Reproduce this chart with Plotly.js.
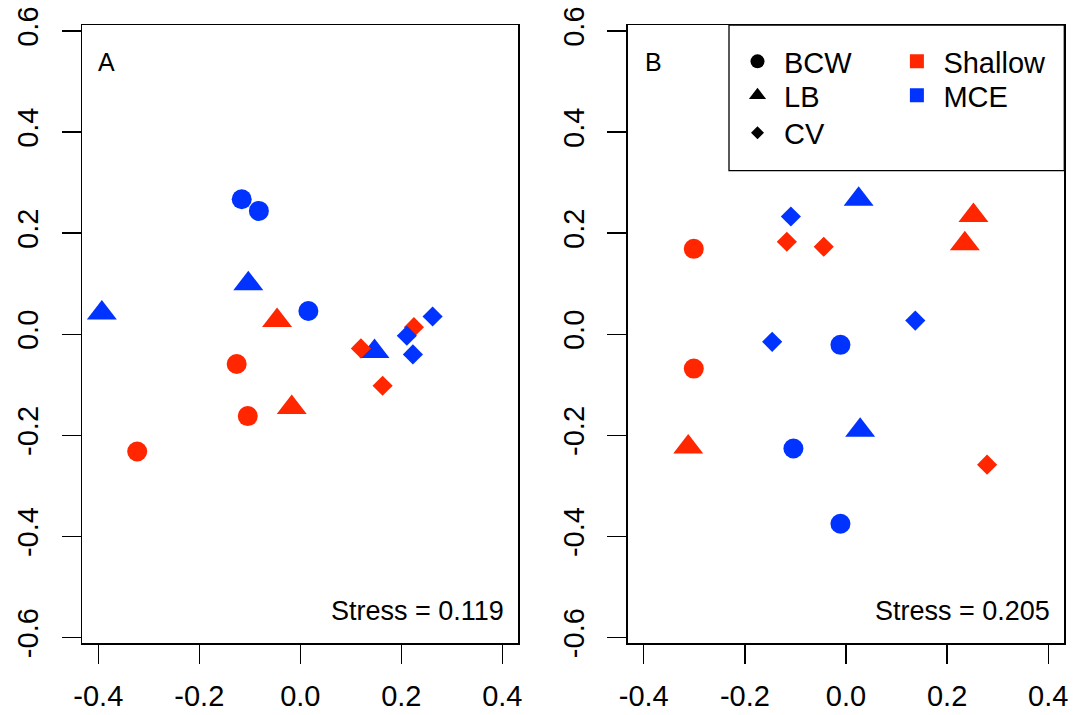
<!DOCTYPE html>
<html>
<head>
<meta charset="utf-8">
<script src="https://cdn.plot.ly/plotly-3.0.1.min.js"></script>
<style>html,body{margin:0;padding:0;background:#fff;}#plot{width:1086px;height:715px;}</style>
</head>
<body>
<div id="plot"></div>
<script>
// ---- data ----
const tickVals = [-0.4, -0.2, 0.0, 0.2, 0.4];
const tickText = ['-0.4', '-0.2', '0.0', '0.2', '0.4'];
const yTickVals = [-0.6, -0.4, -0.2, 0.0, 0.2, 0.4, 0.6];
const yTickText = ['-0.6', '-0.4', '-0.2', '0.0', '0.2', '0.4', '0.6'];

const sites = ['BCW', 'LB', 'CV'];
const depths = ['Shallow', 'MCE'];

// Panel A
const A_x = [-0.116, -0.082, 0.016, -0.126, -0.104, -0.323, -0.046, -0.017, -0.393, -0.103, 0.147, 0.120, 0.163, 0.225, 0.211, 0.223, 0.262];
const A_y = [0.267, 0.244, 0.046, -0.059, -0.162, -0.232, 0.027, -0.145, 0.042, 0.100, -0.034, -0.028, -0.102, 0.014, -0.003, -0.040, 0.035];
const A_site = ['BCW','BCW','BCW','BCW','BCW','BCW','LB','LB','LB','LB','LB','CV','CV','CV','CV','CV','CV'];
const A_depth = ['MCE','MCE','MCE','Shallow','Shallow','Shallow','Shallow','Shallow','MCE','MCE','MCE','Shallow','Shallow','Shallow','MCE','MCE','MCE'];
const A_stress = 'Stress = 0.119';

// Panel B
const B_x = [-0.301, -0.301, -0.011, -0.104, -0.011, -0.312, 0.252, 0.235, 0.025, 0.028, -0.117, -0.044, 0.279, -0.109, -0.146, 0.137];
const B_y = [0.169, -0.068, -0.021, -0.226, -0.375, -0.223, 0.235, 0.179, 0.267, -0.190, 0.183, 0.173, -0.258, 0.233, -0.015, 0.027];
const B_site = ['BCW','BCW','BCW','BCW','BCW','LB','LB','LB','LB','LB','CV','CV','CV','CV','CV','CV'];
const B_depth = ['Shallow','Shallow','MCE','MCE','MCE','Shallow','Shallow','Shallow','MCE','MCE','Shallow','Shallow','Shallow','MCE','MCE','MCE'];
const B_stress = 'Stress = 0.205';

// ---- styles ----
const depthColor = {Shallow: '#FF2600', MCE: '#0033FF'};
const siteSymbol = {BCW: 'circle', LB: 'triangle-up', CV: 'diamond'};
const siteSize = {BCW: 20, LB: 26, CV: 15.5};
const legendSize = {BCW: 14, LB: 15, CV: 10};
const FONT = 'Liberation Sans, Arial, Helvetica, sans-serif';

const traces = [];
function addPanel(xs, ys, ss, ds, xa, ya) {
  sites.forEach(s => {
    depths.forEach(d => {
      const px = [], py = [];
      xs.forEach((v, i) => { if (ss[i] === s && ds[i] === d) { px.push(v); py.push(ys[i]); } });
      traces.push({
        type: 'scatter', mode: 'markers', x: px, y: py, xaxis: xa, yaxis: ya,
        showlegend: false, hoverinfo: 'x+y', name: s + ' ' + d,
        marker: {symbol: siteSymbol[s], size: siteSize[s], color: depthColor[d], line: {width: 0}}
      });
    });
  });
}
addPanel(A_x, A_y, A_site, A_depth, 'x', 'y');
addPanel(B_x, B_y, B_site, B_depth, 'x2', 'y2');

const W = 1086, H = 715;
const px = v => v / W, py = v => 1 - v / H;

// legend entries: one legend per entry so rows can be spaced like the original
const legendCommon = {
  bgcolor: 'rgba(0,0,0,0)', borderwidth: 0, font: {family: FONT, size: 29, color: '#000'},
  itemwidth: 43, xanchor: 'left', yanchor: 'top', orientation: 'v', itemclick: false, itemdoubleclick: false
};
const rowTops = [36, 70, 107.5];
const legends = {};
sites.forEach((s, i) => {
  const key = i === 0 ? 'legend' : 'legend' + (i + 1);
  legends[key] = Object.assign({}, legendCommon, {x: px(731), y: py(rowTops[i])});
  traces.push({
    type: 'scatter', mode: 'markers', x: [null], y: [null], xaxis: 'x2', yaxis: 'y2',
    name: s, legend: key, showlegend: true,
    marker: {symbol: siteSymbol[s], size: legendSize[s], color: '#000'}
  });
});
depths.forEach((d, i) => {
  const key = 'legend' + (i + 4);
  legends[key] = Object.assign({}, legendCommon, {x: px(890.4), y: py(rowTops[i])});
  traces.push({
    type: 'scatter', mode: 'markers', x: [null], y: [null], xaxis: 'x2', yaxis: 'y2',
    name: d, legend: key, showlegend: true,
    marker: {symbol: 'square', size: 14, color: depthColor[d]}
  });
});

function xAxis(dom, anchor) {
  return {
    domain: dom, anchor: anchor, range: [-0.4317, 0.4317], tickvals: tickVals, ticktext: tickText,
    showgrid: false, zeroline: false, showline: true, mirror: true,
    linecolor: '#000', linewidth: 1.3, ticks: 'outside', ticklen: 19, tickwidth: 1.3, tickcolor: '#000',
    ticklabelstandoff: 8,
    tickfont: {family: FONT, size: 29, color: '#000'}, fixedrange: true
  };
}
function yAxis(anchor) {
  return {
    domain: [py(643.3), py(25)], range: [-0.6115, 0.6118], tickvals: yTickVals, ticktext: yTickText,
    anchor: anchor,
    showgrid: false, zeroline: false, showline: true, mirror: true,
    linecolor: '#000', linewidth: 1.3, ticks: 'outside', ticklen: 19, tickwidth: 1.3, tickcolor: '#000',
    tickangle: -90, ticklabelstandoff: 12,
    tickfont: {family: FONT, size: 29, color: '#000'}, fixedrange: true
  };
}

const layout = Object.assign({
  width: W, height: H,
  margin: {l: 0, r: 0, t: 0, b: 0},
  paper_bgcolor: '#fff', plot_bgcolor: '#fff',
  font: {family: FONT, color: '#000'},
  xaxis: xAxis([px(82.3), px(518.3)], 'y'), yaxis: yAxis('x'),
  xaxis2: xAxis([px(627.7), px(1064.3)], 'y2'), yaxis2: yAxis('x2'),
  shapes: [{
    type: 'rect', xref: 'paper', yref: 'paper',
    x0: px(729), x1: px(1064.3), y0: py(170.7), y1: py(25),
    line: {color: '#000', width: 1.3}, fillcolor: 'rgba(0,0,0,0)'
  }],
  annotations: [
    {xref: 'paper', yref: 'paper', x: px(96), y: py(62.5), xanchor: 'left', yanchor: 'middle', text: 'A', showarrow: false, font: {family: FONT, size: 25, color: '#000'}},
    {xref: 'paper', yref: 'paper', x: px(643), y: py(62.5), xanchor: 'left', yanchor: 'middle', text: 'B', showarrow: false, font: {family: FONT, size: 25, color: '#000'}},
    {xref: 'paper', yref: 'paper', x: px(506), y: py(611), xanchor: 'right', yanchor: 'middle', text: A_stress, showarrow: false, font: {family: FONT, size: 27, color: '#000'}},
    {xref: 'paper', yref: 'paper', x: px(1052), y: py(611), xanchor: 'right', yanchor: 'middle', text: B_stress, showarrow: false, font: {family: FONT, size: 27, color: '#000'}}
  ]
}, legends);

Plotly.newPlot('plot', traces, layout, {displayModeBar: false, staticPlot: true});
</script>
</body>
</html>
